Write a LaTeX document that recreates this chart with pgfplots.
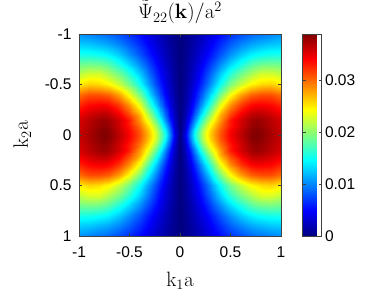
\documentclass[border=0pt]{standalone}
\usepackage[no-math]{fontspec}
\newfontfamily\tickfont{Liberation Sans}
\usepackage{pgfplots}
\pgfplotsset{compat=1.18}
\pgfplotsset{/pgf/number format/assume math mode=true}
\DeclareSymbolFont{cmops}{OT1}{cmr}{m}{n}
\DeclareMathAccent{\tilde}{\mathalpha}{cmops}{"7E}
\begin{document}
\begin{tikzpicture}
\path[use as bounding box] (-79pt,-55pt) rectangle (309pt,236pt);
\begin{axis}[
  at={(0pt,0pt)}, anchor=south west,
  scale only axis, width=202pt, height=202pt,
  xmin=-1, xmax=1, ymin=-1, ymax=1, y dir=reverse,
  xtick={-1,-0.5,0,0.5,1}, ytick={-1,-0.5,0,0.5,1},
  tick align=inside, major tick length=3pt,
  axis line style={black!75, line width=0.6pt},
  tick style={black!75, line width=0.6pt},
  tick label style={font=\tickfont\fontsize{15.5}{18}\selectfont},
  xticklabel style={yshift=-7pt},
  yticklabel style={xshift=-4pt},
  colormap/jet,
  point meta min=0, point meta max=0.0388,
  colorbar,
  colorbar style={
    at={(parent axis.north east)}, anchor=north west, xshift=13pt,
    scale only axis, width=19pt, height=202pt,
    ytick={0,0.01,0.02,0.03}, scaled y ticks=false,
    yticklabel style={/pgf/number format/fixed, /pgf/number format/precision=2, font=\tickfont\fontsize{15.5}{18}\selectfont},
    tick align=inside, major tick length=3pt,
    axis line style={black!75, line width=0.6pt},
    tick style={black!75},
  },
  title={$\tilde{\Psi}_{22}(\mathbf{k})/\mathrm{a}^2$},
  title style={font=\fontsize{20.74}{25}\selectfont, inner sep=0pt, at={([yshift=9pt]axis description cs:0.5,1)}, anchor=base},
  xlabel={$\mathrm{k}_1\mathrm{a}$},
  xlabel style={font=\fontsize{20.74}{25}\selectfont, at={([yshift=-50pt]axis description cs:0.5,0)}, anchor=base},
  ylabel={$\mathrm{k}_2\mathrm{a}$},
  ylabel style={font=\fontsize{20.74}{25}\selectfont, at={([xshift=-51pt]axis description cs:0,0.5)}, anchor=base},
  axis on top,
]
\addplot[surf, shader=interp, mesh/cols=29, mesh/rows=25, point meta=explicit] table[row sep=\\, x=x, y=y, meta=z] {
x y z\\
-1 -1 0.01044\\-0.9 -1 0.00986\\-0.8 -1 0.00931\\-0.75 -1 0.00908\\-0.7 -1 0.00869\\-0.6 -1 0.00776\\-0.5 -1 0.00660\\-0.4 -1 0.00512\\-0.3 -1 0.00357\\-0.25 -1 0.00287\\-0.2 -1 0.00217\\-0.15 -1 0.00151\\-0.1 -1 0.00093\\-0.05 -1 0.00043\\0 -1 0\\0.05 -1 0.00043\\0.1 -1 0.00093\\0.15 -1 0.00151\\0.2 -1 0.00217\\0.25 -1 0.00287\\0.3 -1 0.00357\\0.4 -1 0.00512\\0.5 -1 0.00660\\0.6 -1 0.00776\\0.7 -1 0.00869\\0.75 -1 0.00908\\0.8 -1 0.00931\\0.9 -1 0.00986\\1 -1 0.01044\\
-1 -0.9 0.01257\\-0.9 -0.9 0.01234\\-0.8 -0.9 0.01172\\-0.75 -0.9 0.01145\\-0.7 -0.9 0.01106\\-0.6 -0.9 0.00989\\-0.5 -0.9 0.00830\\-0.4 -0.9 0.00640\\-0.3 -0.9 0.00442\\-0.25 -0.9 0.00349\\-0.2 -0.9 0.00260\\-0.15 -0.9 0.00186\\-0.1 -0.9 0.00113\\-0.05 -0.9 0.00050\\0 -0.9 0\\0.05 -0.9 0.00050\\0.1 -0.9 0.00113\\0.15 -0.9 0.00186\\0.2 -0.9 0.00260\\0.25 -0.9 0.00349\\0.3 -0.9 0.00442\\0.4 -0.9 0.00640\\0.5 -0.9 0.00830\\0.6 -0.9 0.00989\\0.7 -0.9 0.01106\\0.75 -0.9 0.01145\\0.8 -0.9 0.01172\\0.9 -0.9 0.01234\\1 -0.9 0.01257\\
-1 -0.8 0.01525\\-0.9 -0.8 0.01517\\-0.8 -0.8 0.01474\\-0.75 -0.8 0.01443\\-0.7 -0.8 0.01393\\-0.6 -0.8 0.01245\\-0.5 -0.8 0.01028\\-0.4 -0.8 0.00788\\-0.3 -0.8 0.00543\\-0.25 -0.8 0.00431\\-0.2 -0.8 0.00326\\-0.15 -0.8 0.00225\\-0.1 -0.8 0.00136\\-0.05 -0.8 0.00058\\0 -0.8 0\\0.05 -0.8 0.00058\\0.1 -0.8 0.00136\\0.15 -0.8 0.00225\\0.2 -0.8 0.00326\\0.25 -0.8 0.00431\\0.3 -0.8 0.00543\\0.4 -0.8 0.00788\\0.5 -0.8 0.01028\\0.6 -0.8 0.01245\\0.7 -0.8 0.01393\\0.75 -0.8 0.01443\\0.8 -0.8 0.01474\\0.9 -0.8 0.01517\\1 -0.8 0.01525\\
-1 -0.7 0.01859\\-0.9 -0.7 0.01886\\-0.8 -0.7 0.01859\\-0.75 -0.7 0.01812\\-0.7 -0.7 0.01750\\-0.6 -0.7 0.01544\\-0.5 -0.7 0.01296\\-0.4 -0.7 0.01005\\-0.3 -0.7 0.00695\\-0.25 -0.7 0.00547\\-0.2 -0.7 0.00404\\-0.15 -0.7 0.00275\\-0.1 -0.7 0.00167\\-0.05 -0.7 0.00074\\0 -0.7 0\\0.05 -0.7 0.00074\\0.1 -0.7 0.00167\\0.15 -0.7 0.00275\\0.2 -0.7 0.00404\\0.25 -0.7 0.00547\\0.3 -0.7 0.00695\\0.4 -0.7 0.01005\\0.5 -0.7 0.01296\\0.6 -0.7 0.01544\\0.7 -0.7 0.01750\\0.75 -0.7 0.01812\\0.8 -0.7 0.01859\\0.9 -0.7 0.01886\\1 -0.7 0.01859\\
-1 -0.6 0.02181\\-0.9 -0.6 0.02270\\-0.8 -0.6 0.02270\\-0.75 -0.6 0.02196\\-0.7 -0.6 0.02103\\-0.6 -0.6 0.01901\\-0.5 -0.6 0.01610\\-0.4 -0.6 0.01257\\-0.3 -0.6 0.00861\\-0.25 -0.6 0.00675\\-0.2 -0.6 0.00493\\-0.15 -0.6 0.00334\\-0.1 -0.6 0.00198\\-0.05 -0.6 0.00085\\0 -0.6 0\\0.05 -0.6 0.00085\\0.1 -0.6 0.00198\\0.15 -0.6 0.00334\\0.2 -0.6 0.00493\\0.25 -0.6 0.00675\\0.3 -0.6 0.00861\\0.4 -0.6 0.01257\\0.5 -0.6 0.01610\\0.6 -0.6 0.01901\\0.7 -0.6 0.02103\\0.75 -0.6 0.02196\\0.8 -0.6 0.02270\\0.9 -0.6 0.02270\\1 -0.6 0.02181\\
-1 -0.5 0.02487\\-0.9 -0.5 0.02592\\-0.8 -0.5 0.02557\\-0.75 -0.5 0.02495\\-0.7 -0.5 0.02441\\-0.6 -0.5 0.02219\\-0.5 -0.5 0.01901\\-0.4 -0.5 0.01478\\-0.3 -0.5 0.01017\\-0.25 -0.5 0.00795\\-0.2 -0.5 0.00590\\-0.15 -0.5 0.00396\\-0.1 -0.5 0.00233\\-0.05 -0.5 0.00097\\0 -0.5 0\\0.05 -0.5 0.00097\\0.1 -0.5 0.00233\\0.15 -0.5 0.00396\\0.2 -0.5 0.00590\\0.25 -0.5 0.00795\\0.3 -0.5 0.01017\\0.4 -0.5 0.01478\\0.5 -0.5 0.01901\\0.6 -0.5 0.02219\\0.7 -0.5 0.02441\\0.75 -0.5 0.02495\\0.8 -0.5 0.02557\\0.9 -0.5 0.02592\\1 -0.5 0.02487\\
-1 -0.4 0.02988\\-0.9 -0.4 0.03104\\-0.8 -0.4 0.03104\\-0.75 -0.4 0.03065\\-0.7 -0.4 0.03026\\-0.6 -0.4 0.02794\\-0.5 -0.4 0.02406\\-0.4 -0.4 0.01901\\-0.3 -0.4 0.01311\\-0.25 -0.4 0.01032\\-0.2 -0.4 0.00760\\-0.15 -0.4 0.00508\\-0.1 -0.4 0.00291\\-0.05 -0.4 0.00120\\0 -0.4 0\\0.05 -0.4 0.00120\\0.1 -0.4 0.00291\\0.15 -0.4 0.00508\\0.2 -0.4 0.00760\\0.25 -0.4 0.01032\\0.3 -0.4 0.01311\\0.4 -0.4 0.01901\\0.5 -0.4 0.02406\\0.6 -0.4 0.02794\\0.7 -0.4 0.03026\\0.75 -0.4 0.03065\\0.8 -0.4 0.03104\\0.9 -0.4 0.03104\\1 -0.4 0.02988\\
-1 -0.3 0.03259\\-0.9 -0.3 0.03376\\-0.8 -0.3 0.03414\\-0.75 -0.3 0.03414\\-0.7 -0.3 0.03376\\-0.6 -0.3 0.03182\\-0.5 -0.3 0.02832\\-0.4 -0.3 0.02328\\-0.3 -0.3 0.01626\\-0.25 -0.3 0.01308\\-0.2 -0.3 0.00978\\-0.15 -0.3 0.00652\\-0.1 -0.3 0.00369\\-0.05 -0.3 0.00147\\0 -0.3 0\\0.05 -0.3 0.00147\\0.1 -0.3 0.00369\\0.15 -0.3 0.00652\\0.2 -0.3 0.00978\\0.25 -0.3 0.01308\\0.3 -0.3 0.01626\\0.4 -0.3 0.02328\\0.5 -0.3 0.02832\\0.6 -0.3 0.03182\\0.7 -0.3 0.03376\\0.75 -0.3 0.03414\\0.8 -0.3 0.03414\\0.9 -0.3 0.03376\\1 -0.3 0.03259\\
-1 -0.2 0.03473\\-0.9 -0.2 0.03589\\-0.8 -0.2 0.03667\\-0.75 -0.2 0.03686\\-0.7 -0.2 0.03647\\-0.6 -0.2 0.03453\\-0.5 -0.2 0.03143\\-0.4 -0.2 0.02716\\-0.3 -0.2 0.02033\\-0.25 -0.2 0.01676\\-0.2 -0.2 0.01292\\-0.15 -0.2 0.00892\\-0.1 -0.2 0.00497\\-0.05 -0.2 0.00186\\0 -0.2 0\\0.05 -0.2 0.00186\\0.1 -0.2 0.00497\\0.15 -0.2 0.00892\\0.2 -0.2 0.01292\\0.25 -0.2 0.01676\\0.3 -0.2 0.02033\\0.4 -0.2 0.02716\\0.5 -0.2 0.03143\\0.6 -0.2 0.03453\\0.7 -0.2 0.03647\\0.75 -0.2 0.03686\\0.8 -0.2 0.03667\\0.9 -0.2 0.03589\\1 -0.2 0.03473\\
-1 -0.15 0.03550\\-0.9 -0.15 0.03667\\-0.8 -0.15 0.03764\\-0.75 -0.15 0.03783\\-0.7 -0.15 0.03744\\-0.6 -0.15 0.03570\\-0.5 -0.15 0.03298\\-0.4 -0.15 0.02800\\-0.3 -0.15 0.02239\\-0.25 -0.15 0.01886\\-0.2 -0.15 0.01509\\-0.15 -0.15 0.01048\\-0.1 -0.15 0.00598\\-0.05 -0.15 0.00221\\0 -0.15 0\\0.05 -0.15 0.00221\\0.1 -0.15 0.00598\\0.15 -0.15 0.01048\\0.2 -0.15 0.01509\\0.25 -0.15 0.01886\\0.3 -0.15 0.02239\\0.4 -0.15 0.02800\\0.5 -0.15 0.03298\\0.6 -0.15 0.03570\\0.7 -0.15 0.03744\\0.75 -0.15 0.03783\\0.8 -0.15 0.03764\\0.9 -0.15 0.03667\\1 -0.15 0.03550\\
-1 -0.1 0.03558\\-0.9 -0.1 0.03674\\-0.8 -0.1 0.03779\\-0.75 -0.1 0.03806\\-0.7 -0.1 0.03767\\-0.6 -0.1 0.03566\\-0.5 -0.1 0.03306\\-0.4 -0.1 0.02929\\-0.3 -0.1 0.02417\\-0.25 -0.1 0.02099\\-0.2 -0.1 0.01703\\-0.15 -0.1 0.01245\\-0.1 -0.1 0.00749\\-0.05 -0.1 0.00260\\0 -0.1 0\\0.05 -0.1 0.00260\\0.1 -0.1 0.00749\\0.15 -0.1 0.01245\\0.2 -0.1 0.01703\\0.25 -0.1 0.02099\\0.3 -0.1 0.02417\\0.4 -0.1 0.02929\\0.5 -0.1 0.03306\\0.6 -0.1 0.03566\\0.7 -0.1 0.03767\\0.75 -0.1 0.03806\\0.8 -0.1 0.03779\\0.9 -0.1 0.03674\\1 -0.1 0.03558\\
-1 -0.05 0.03597\\-0.9 -0.05 0.03713\\-0.8 -0.05 0.03826\\-0.75 -0.05 0.03864\\-0.7 -0.05 0.03822\\-0.6 -0.05 0.03620\\-0.5 -0.05 0.03379\\-0.4 -0.05 0.03030\\-0.3 -0.05 0.02553\\-0.25 -0.05 0.02266\\-0.2 -0.05 0.01870\\-0.15 -0.05 0.01455\\-0.1 -0.05 0.00889\\-0.05 -0.05 0.00322\\0 -0.05 0\\0.05 -0.05 0.00322\\0.1 -0.05 0.00889\\0.15 -0.05 0.01455\\0.2 -0.05 0.01870\\0.25 -0.05 0.02266\\0.3 -0.05 0.02553\\0.4 -0.05 0.03030\\0.5 -0.05 0.03379\\0.6 -0.05 0.03620\\0.7 -0.05 0.03822\\0.75 -0.05 0.03864\\0.8 -0.05 0.03826\\0.9 -0.05 0.03713\\1 -0.05 0.03597\\
-1 0 0.03608\\-0.9 0 0.03725\\-0.8 0 0.03841\\-0.75 0 0.03880\\-0.7 0 0.03841\\-0.6 0 0.03647\\-0.5 0 0.03414\\-0.4 0 0.03065\\-0.3 0 0.02600\\-0.25 0 0.02328\\-0.2 0 0.01940\\-0.15 0 0.01552\\-0.1 0 0.00970\\-0.05 0 0.00388\\0 0 0\\0.05 0 0.00388\\0.1 0 0.00970\\0.15 0 0.01552\\0.2 0 0.01940\\0.25 0 0.02328\\0.3 0 0.02600\\0.4 0 0.03065\\0.5 0 0.03414\\0.6 0 0.03647\\0.7 0 0.03841\\0.75 0 0.03880\\0.8 0 0.03841\\0.9 0 0.03725\\1 0 0.03608\\
-1 0.05 0.03597\\-0.9 0.05 0.03713\\-0.8 0.05 0.03826\\-0.75 0.05 0.03864\\-0.7 0.05 0.03822\\-0.6 0.05 0.03620\\-0.5 0.05 0.03379\\-0.4 0.05 0.03030\\-0.3 0.05 0.02553\\-0.25 0.05 0.02266\\-0.2 0.05 0.01870\\-0.15 0.05 0.01455\\-0.1 0.05 0.00889\\-0.05 0.05 0.00322\\0 0.05 0\\0.05 0.05 0.00322\\0.1 0.05 0.00889\\0.15 0.05 0.01455\\0.2 0.05 0.01870\\0.25 0.05 0.02266\\0.3 0.05 0.02553\\0.4 0.05 0.03030\\0.5 0.05 0.03379\\0.6 0.05 0.03620\\0.7 0.05 0.03822\\0.75 0.05 0.03864\\0.8 0.05 0.03826\\0.9 0.05 0.03713\\1 0.05 0.03597\\
-1 0.1 0.03558\\-0.9 0.1 0.03674\\-0.8 0.1 0.03779\\-0.75 0.1 0.03806\\-0.7 0.1 0.03767\\-0.6 0.1 0.03566\\-0.5 0.1 0.03306\\-0.4 0.1 0.02929\\-0.3 0.1 0.02417\\-0.25 0.1 0.02099\\-0.2 0.1 0.01703\\-0.15 0.1 0.01245\\-0.1 0.1 0.00749\\-0.05 0.1 0.00260\\0 0.1 0\\0.05 0.1 0.00260\\0.1 0.1 0.00749\\0.15 0.1 0.01245\\0.2 0.1 0.01703\\0.25 0.1 0.02099\\0.3 0.1 0.02417\\0.4 0.1 0.02929\\0.5 0.1 0.03306\\0.6 0.1 0.03566\\0.7 0.1 0.03767\\0.75 0.1 0.03806\\0.8 0.1 0.03779\\0.9 0.1 0.03674\\1 0.1 0.03558\\
-1 0.15 0.03550\\-0.9 0.15 0.03667\\-0.8 0.15 0.03764\\-0.75 0.15 0.03783\\-0.7 0.15 0.03744\\-0.6 0.15 0.03570\\-0.5 0.15 0.03298\\-0.4 0.15 0.02800\\-0.3 0.15 0.02239\\-0.25 0.15 0.01886\\-0.2 0.15 0.01509\\-0.15 0.15 0.01048\\-0.1 0.15 0.00598\\-0.05 0.15 0.00221\\0 0.15 0\\0.05 0.15 0.00221\\0.1 0.15 0.00598\\0.15 0.15 0.01048\\0.2 0.15 0.01509\\0.25 0.15 0.01886\\0.3 0.15 0.02239\\0.4 0.15 0.02800\\0.5 0.15 0.03298\\0.6 0.15 0.03570\\0.7 0.15 0.03744\\0.75 0.15 0.03783\\0.8 0.15 0.03764\\0.9 0.15 0.03667\\1 0.15 0.03550\\
-1 0.2 0.03473\\-0.9 0.2 0.03589\\-0.8 0.2 0.03667\\-0.75 0.2 0.03686\\-0.7 0.2 0.03647\\-0.6 0.2 0.03453\\-0.5 0.2 0.03143\\-0.4 0.2 0.02716\\-0.3 0.2 0.02033\\-0.25 0.2 0.01676\\-0.2 0.2 0.01292\\-0.15 0.2 0.00892\\-0.1 0.2 0.00497\\-0.05 0.2 0.00186\\0 0.2 0\\0.05 0.2 0.00186\\0.1 0.2 0.00497\\0.15 0.2 0.00892\\0.2 0.2 0.01292\\0.25 0.2 0.01676\\0.3 0.2 0.02033\\0.4 0.2 0.02716\\0.5 0.2 0.03143\\0.6 0.2 0.03453\\0.7 0.2 0.03647\\0.75 0.2 0.03686\\0.8 0.2 0.03667\\0.9 0.2 0.03589\\1 0.2 0.03473\\
-1 0.3 0.03259\\-0.9 0.3 0.03376\\-0.8 0.3 0.03414\\-0.75 0.3 0.03414\\-0.7 0.3 0.03376\\-0.6 0.3 0.03182\\-0.5 0.3 0.02832\\-0.4 0.3 0.02328\\-0.3 0.3 0.01626\\-0.25 0.3 0.01308\\-0.2 0.3 0.00978\\-0.15 0.3 0.00652\\-0.1 0.3 0.00369\\-0.05 0.3 0.00147\\0 0.3 0\\0.05 0.3 0.00147\\0.1 0.3 0.00369\\0.15 0.3 0.00652\\0.2 0.3 0.00978\\0.25 0.3 0.01308\\0.3 0.3 0.01626\\0.4 0.3 0.02328\\0.5 0.3 0.02832\\0.6 0.3 0.03182\\0.7 0.3 0.03376\\0.75 0.3 0.03414\\0.8 0.3 0.03414\\0.9 0.3 0.03376\\1 0.3 0.03259\\
-1 0.4 0.02988\\-0.9 0.4 0.03104\\-0.8 0.4 0.03104\\-0.75 0.4 0.03065\\-0.7 0.4 0.03026\\-0.6 0.4 0.02794\\-0.5 0.4 0.02406\\-0.4 0.4 0.01901\\-0.3 0.4 0.01311\\-0.25 0.4 0.01032\\-0.2 0.4 0.00760\\-0.15 0.4 0.00508\\-0.1 0.4 0.00291\\-0.05 0.4 0.00120\\0 0.4 0\\0.05 0.4 0.00120\\0.1 0.4 0.00291\\0.15 0.4 0.00508\\0.2 0.4 0.00760\\0.25 0.4 0.01032\\0.3 0.4 0.01311\\0.4 0.4 0.01901\\0.5 0.4 0.02406\\0.6 0.4 0.02794\\0.7 0.4 0.03026\\0.75 0.4 0.03065\\0.8 0.4 0.03104\\0.9 0.4 0.03104\\1 0.4 0.02988\\
-1 0.5 0.02487\\-0.9 0.5 0.02592\\-0.8 0.5 0.02557\\-0.75 0.5 0.02495\\-0.7 0.5 0.02441\\-0.6 0.5 0.02219\\-0.5 0.5 0.01901\\-0.4 0.5 0.01478\\-0.3 0.5 0.01017\\-0.25 0.5 0.00795\\-0.2 0.5 0.00590\\-0.15 0.5 0.00396\\-0.1 0.5 0.00233\\-0.05 0.5 0.00097\\0 0.5 0\\0.05 0.5 0.00097\\0.1 0.5 0.00233\\0.15 0.5 0.00396\\0.2 0.5 0.00590\\0.25 0.5 0.00795\\0.3 0.5 0.01017\\0.4 0.5 0.01478\\0.5 0.5 0.01901\\0.6 0.5 0.02219\\0.7 0.5 0.02441\\0.75 0.5 0.02495\\0.8 0.5 0.02557\\0.9 0.5 0.02592\\1 0.5 0.02487\\
-1 0.6 0.02181\\-0.9 0.6 0.02270\\-0.8 0.6 0.02270\\-0.75 0.6 0.02196\\-0.7 0.6 0.02103\\-0.6 0.6 0.01901\\-0.5 0.6 0.01610\\-0.4 0.6 0.01257\\-0.3 0.6 0.00861\\-0.25 0.6 0.00675\\-0.2 0.6 0.00493\\-0.15 0.6 0.00334\\-0.1 0.6 0.00198\\-0.05 0.6 0.00085\\0 0.6 0\\0.05 0.6 0.00085\\0.1 0.6 0.00198\\0.15 0.6 0.00334\\0.2 0.6 0.00493\\0.25 0.6 0.00675\\0.3 0.6 0.00861\\0.4 0.6 0.01257\\0.5 0.6 0.01610\\0.6 0.6 0.01901\\0.7 0.6 0.02103\\0.75 0.6 0.02196\\0.8 0.6 0.02270\\0.9 0.6 0.02270\\1 0.6 0.02181\\
-1 0.7 0.01859\\-0.9 0.7 0.01886\\-0.8 0.7 0.01859\\-0.75 0.7 0.01812\\-0.7 0.7 0.01750\\-0.6 0.7 0.01544\\-0.5 0.7 0.01296\\-0.4 0.7 0.01005\\-0.3 0.7 0.00695\\-0.25 0.7 0.00547\\-0.2 0.7 0.00404\\-0.15 0.7 0.00275\\-0.1 0.7 0.00167\\-0.05 0.7 0.00074\\0 0.7 0\\0.05 0.7 0.00074\\0.1 0.7 0.00167\\0.15 0.7 0.00275\\0.2 0.7 0.00404\\0.25 0.7 0.00547\\0.3 0.7 0.00695\\0.4 0.7 0.01005\\0.5 0.7 0.01296\\0.6 0.7 0.01544\\0.7 0.7 0.01750\\0.75 0.7 0.01812\\0.8 0.7 0.01859\\0.9 0.7 0.01886\\1 0.7 0.01859\\
-1 0.8 0.01525\\-0.9 0.8 0.01517\\-0.8 0.8 0.01474\\-0.75 0.8 0.01443\\-0.7 0.8 0.01393\\-0.6 0.8 0.01245\\-0.5 0.8 0.01028\\-0.4 0.8 0.00788\\-0.3 0.8 0.00543\\-0.25 0.8 0.00431\\-0.2 0.8 0.00326\\-0.15 0.8 0.00225\\-0.1 0.8 0.00136\\-0.05 0.8 0.00058\\0 0.8 0\\0.05 0.8 0.00058\\0.1 0.8 0.00136\\0.15 0.8 0.00225\\0.2 0.8 0.00326\\0.25 0.8 0.00431\\0.3 0.8 0.00543\\0.4 0.8 0.00788\\0.5 0.8 0.01028\\0.6 0.8 0.01245\\0.7 0.8 0.01393\\0.75 0.8 0.01443\\0.8 0.8 0.01474\\0.9 0.8 0.01517\\1 0.8 0.01525\\
-1 0.9 0.01257\\-0.9 0.9 0.01234\\-0.8 0.9 0.01172\\-0.75 0.9 0.01145\\-0.7 0.9 0.01106\\-0.6 0.9 0.00989\\-0.5 0.9 0.00830\\-0.4 0.9 0.00640\\-0.3 0.9 0.00442\\-0.25 0.9 0.00349\\-0.2 0.9 0.00260\\-0.15 0.9 0.00186\\-0.1 0.9 0.00113\\-0.05 0.9 0.00050\\0 0.9 0\\0.05 0.9 0.00050\\0.1 0.9 0.00113\\0.15 0.9 0.00186\\0.2 0.9 0.00260\\0.25 0.9 0.00349\\0.3 0.9 0.00442\\0.4 0.9 0.00640\\0.5 0.9 0.00830\\0.6 0.9 0.00989\\0.7 0.9 0.01106\\0.75 0.9 0.01145\\0.8 0.9 0.01172\\0.9 0.9 0.01234\\1 0.9 0.01257\\
-1 1 0.01044\\-0.9 1 0.00986\\-0.8 1 0.00931\\-0.75 1 0.00908\\-0.7 1 0.00869\\-0.6 1 0.00776\\-0.5 1 0.00660\\-0.4 1 0.00512\\-0.3 1 0.00357\\-0.25 1 0.00287\\-0.2 1 0.00217\\-0.15 1 0.00151\\-0.1 1 0.00093\\-0.05 1 0.00043\\0 1 0\\0.05 1 0.00043\\0.1 1 0.00093\\0.15 1 0.00151\\0.2 1 0.00217\\0.25 1 0.00287\\0.3 1 0.00357\\0.4 1 0.00512\\0.5 1 0.00660\\0.6 1 0.00776\\0.7 1 0.00869\\0.75 1 0.00908\\0.8 1 0.00931\\0.9 1 0.00986\\1 1 0.01044\\
};
\end{axis}
\end{tikzpicture}
\end{document}
